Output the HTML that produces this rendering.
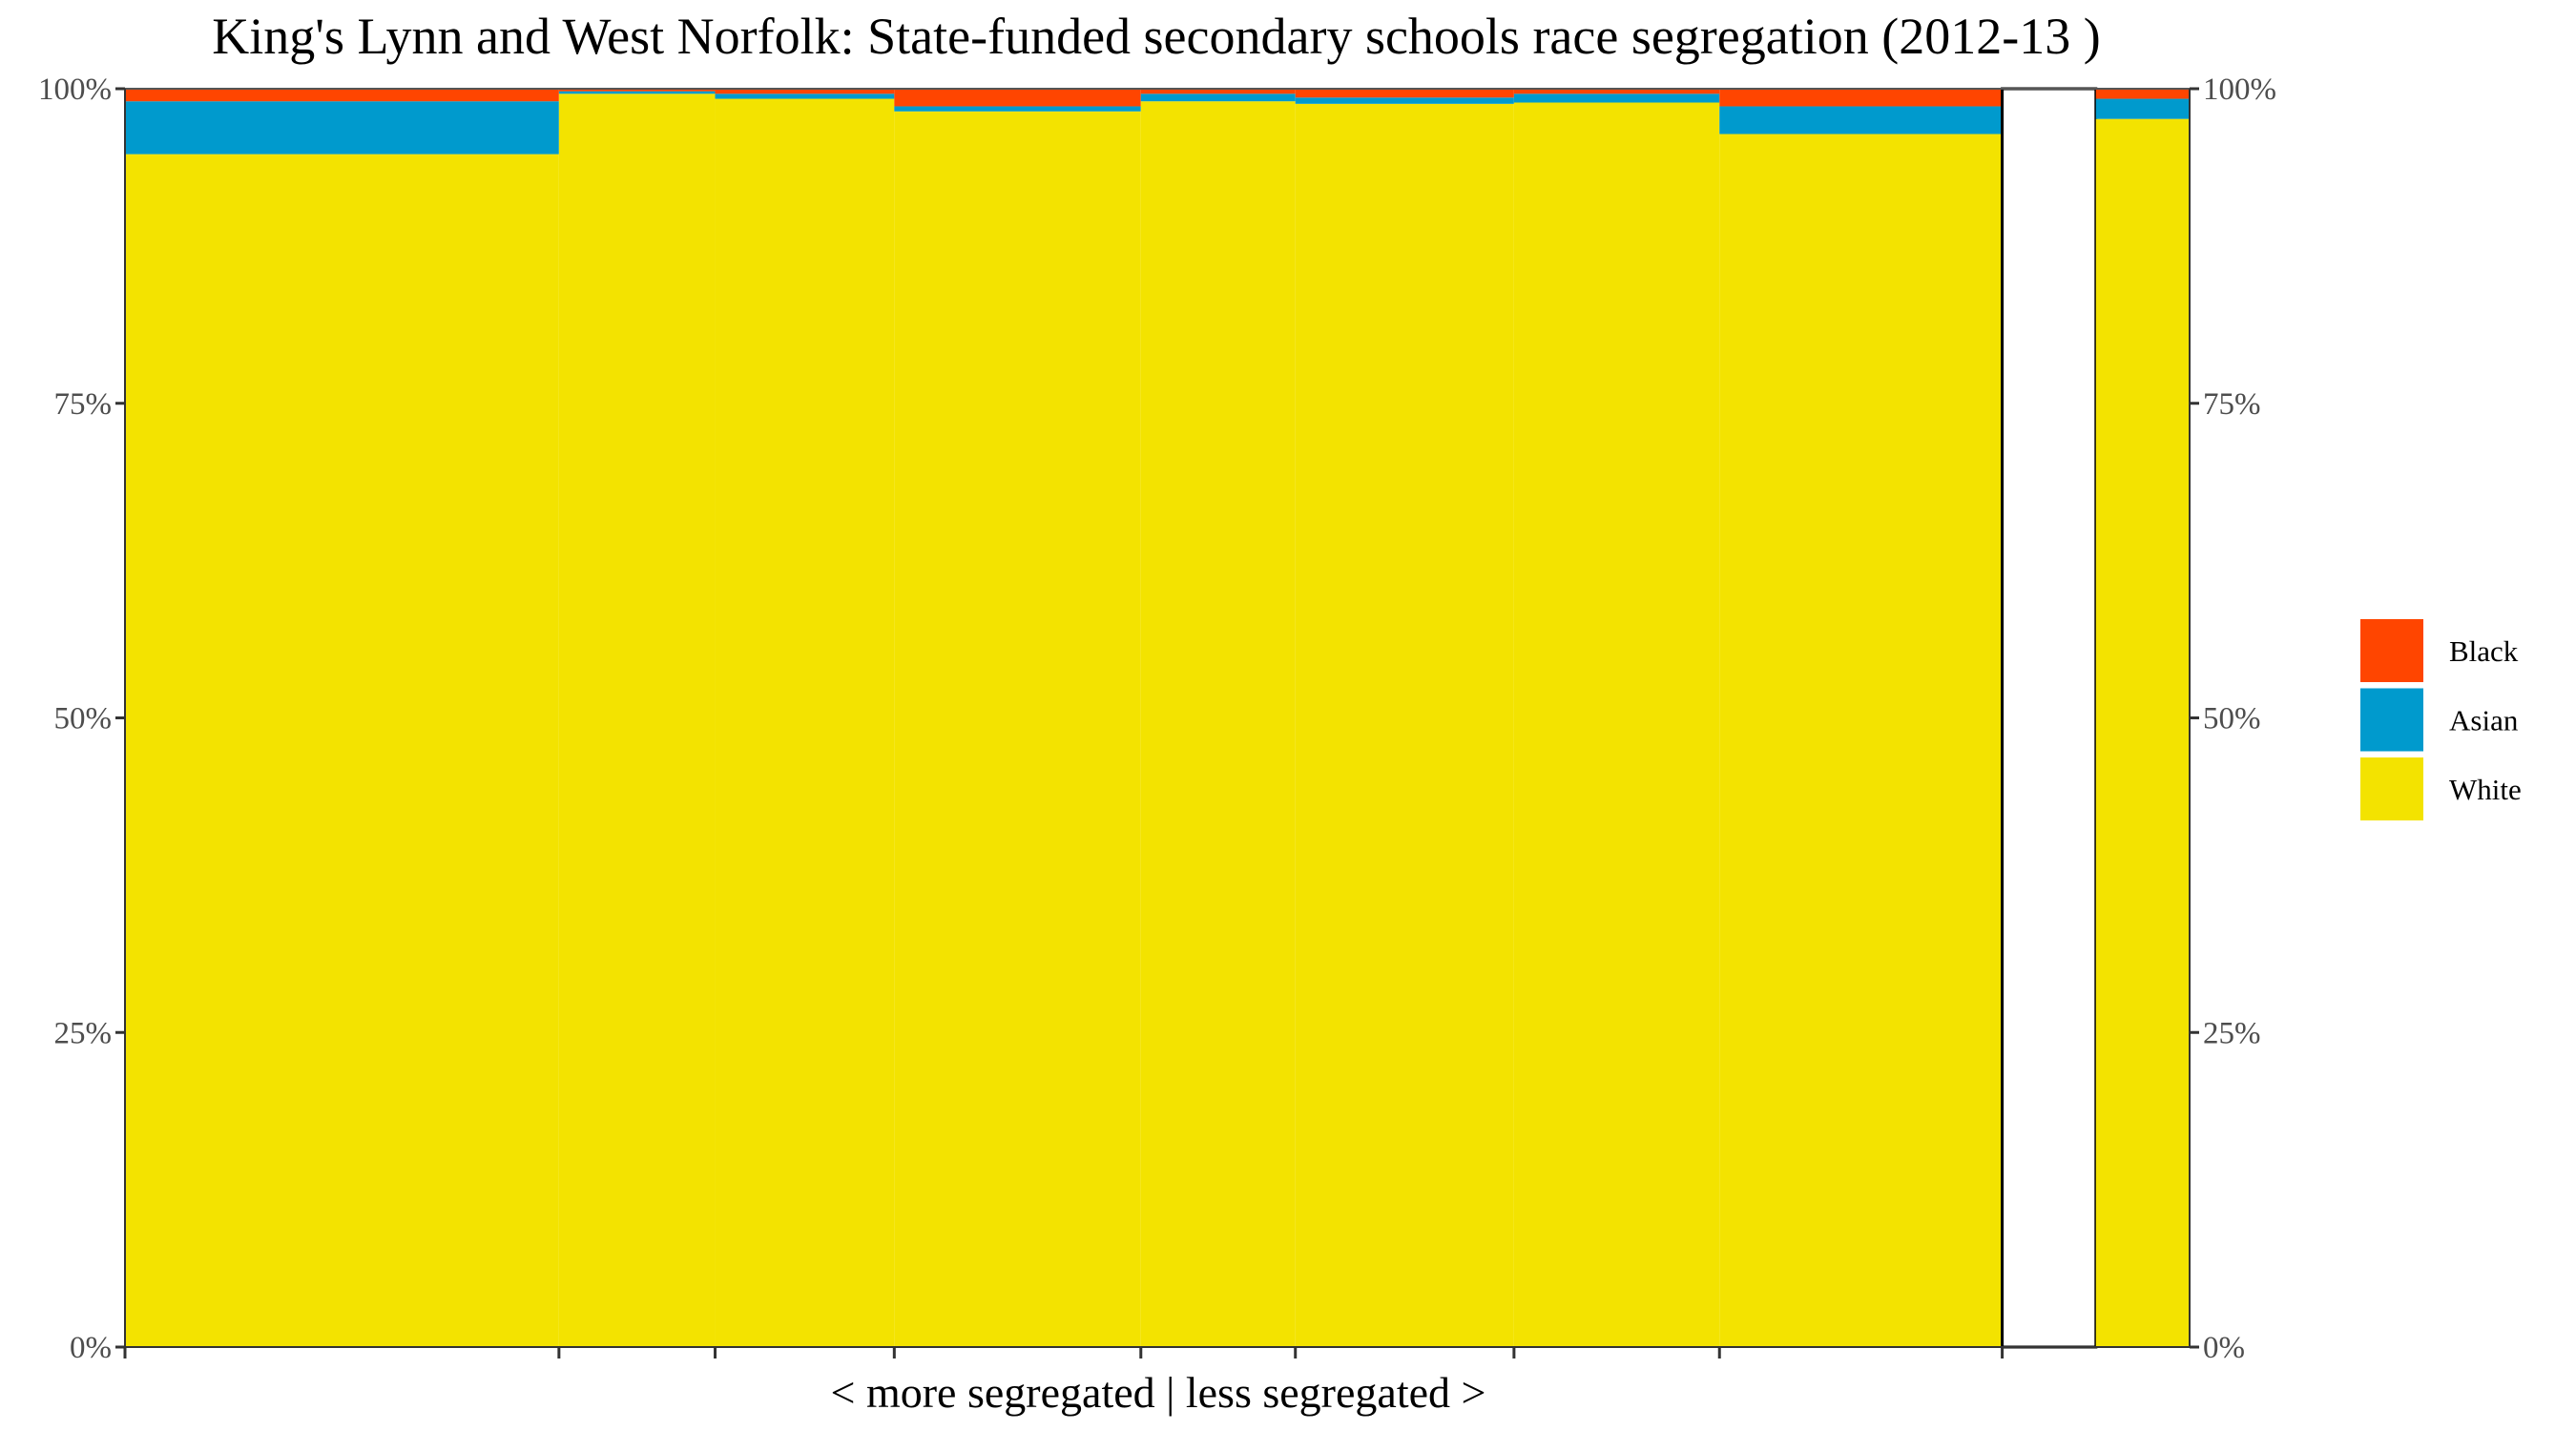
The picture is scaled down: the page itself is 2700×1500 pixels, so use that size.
<!DOCTYPE html>
<html><head><meta charset="utf-8"><style>
html,body{margin:0;padding:0;background:#fff;}
svg{display:block;font-family:"Liberation Serif",serif;}
</style></head><body>
<svg id="chart" width="2700" height="1500" viewBox="0 0 2700 1500" xmlns="http://www.w3.org/2000/svg">
<text x="1212" y="56" font-size="54" text-anchor="middle" fill="#000">King's Lynn and West Norfolk: State-funded secondary schools race segregation (2012-13 )</text>
<text x="1214" y="1475" font-size="46" text-anchor="middle" fill="#000">&lt; more segregated | less segregated &gt;</text>
<g id="plot"></g>
<g id="legend"></g>
</svg>
<script>
const schools = ["s1","s2","s3","s4","s5","s6","s7","s8","gap","s9"];
const sizes = [264, 95, 109, 150, 94, 133, 125, 172, 57, 57];
const whitePct = [94.8, 99.6, 99.2, 98.2, 99.0, 98.8, 98.9, 96.4, 0, 97.6];
const asianPct = [4.2, 0.2, 0.4, 0.4, 0.6, 0.5, 0.7, 2.2, 0, 1.6];
const blackPct = [1.0, 0.2, 0.4, 1.4, 0.4, 0.7, 0.4, 1.4, 0, 0.8];
const yTicks = [0, 25, 50, 75, 100];
const yTickLabels = ["0%", "25%", "50%", "75%", "100%"];
const legendLabels = ["Black", "Asian", "White"];
const legendColors = ["#FF4500", "#009ACD", "#F3E300"];

const NS = "http://www.w3.org/2000/svg";
const L = 131, R = 2295, T = 93, B = 1412;
const total = sizes.reduce((a, b) => a + b, 0);
const xs = v => L + (R - L) * v / total;
const ys = v => B - (B - T) * v / 100;
const plot = document.getElementById("plot");
function mk(tag, attrs, parent) {
  const e = document.createElementNS(NS, tag);
  for (const k in attrs) e.setAttribute(k, attrs[k]);
  parent.appendChild(e);
  return e;
}
let cum = 0;
schools.forEach((s, i) => {
  const x0 = xs(cum), x1 = xs(cum + sizes[i]);
  cum += sizes[i];
  if (s === "gap") {
    const g = mk("rect", {x: x0, y: T, width: x1 - x0, height: B - T, fill: "#fff", stroke: "#000", "stroke-width": 3}, plot);
    
    
    return;
  }
  const w = whitePct[i], a = asianPct[i], b = blackPct[i];
  const rw = mk("rect", {x: x0, y: ys(w), width: x1 - x0, height: ys(0) - ys(w), fill: legendColors[2]}, plot);
  
  
  const ra = mk("rect", {x: x0, y: ys(w + a), width: x1 - x0, height: ys(w) - ys(w + a), fill: legendColors[1]}, plot);
  
  
  const rb = mk("rect", {x: x0, y: ys(w + a + b), width: x1 - x0, height: ys(w + a) - ys(w + a + b), fill: legendColors[0]}, plot);
  
  
});
const topLine = mk("line", {x1: L, x2: R, y1: T, y2: T, stroke: "#555", "stroke-width": 2}, plot);


const la = mk("line", {x1: L, x2: L, y1: T, y2: B, stroke: "#333", "stroke-width": 2}, plot);


const ra2 = mk("line", {x1: R, x2: R, y1: T, y2: B, stroke: "#333", "stroke-width": 2}, plot);


const ba = mk("line", {x1: L, x2: R, y1: B, y2: B, stroke: "#333", "stroke-width": 2}, plot);


cum = 0;
for (let i = 0; i < sizes.length; i++) {
  if (i > 0 && schools[i - 1] === "gap") { cum += sizes[i]; continue; }
  const t = mk("line", {x1: xs(cum), x2: xs(cum), y1: B, y2: B + 12, stroke: "#333", "stroke-width": 3}, plot);
  
  
  cum += sizes[i];
}
yTicks.forEach((v, i) => {
  const tl = mk("line", {x1: L - 10, x2: L, y1: ys(v), y2: ys(v), stroke: "#333", "stroke-width": 3}, plot);
  
  
  const tr = mk("line", {x1: R, x2: R + 10, y1: ys(v), y2: ys(v), stroke: "#333", "stroke-width": 3}, plot);
  
  
  const a = mk("text", {x: L - 14, y: ys(v) + 11, "font-size": 33, "text-anchor": "end", fill: "#4d4d4d"}, plot);
  a.textContent = yTickLabels[i];
  
  
  const b = mk("text", {x: R + 14, y: ys(v) + 11, "font-size": 33, "text-anchor": "start", fill: "#4d4d4d"}, plot);
  b.textContent = yTickLabels[i];
  
  
});
const leg = document.getElementById("legend");
legendLabels.forEach((lab, i) => {
  const y0 = 649 + i * 72.5;
  const k = mk("rect", {x: 2474, y: y0, width: 66, height: 66, fill: legendColors[i]}, leg);
  
  
  const t = mk("text", {x: 2567, y: y0 + 44, "font-size": 31, fill: "#000"}, leg);
  t.textContent = lab;
  
  
});
</script>
</body></html>
